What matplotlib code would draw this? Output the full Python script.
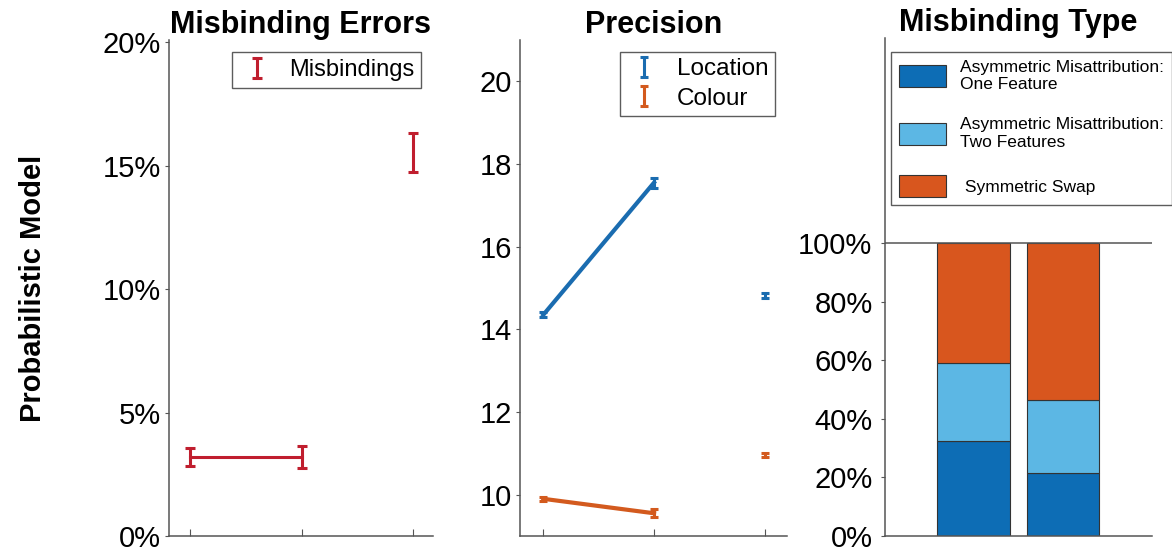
import matplotlib
matplotlib.use("Agg")
import matplotlib.pyplot as plt
from matplotlib.legend_handler import HandlerErrorbar
from matplotlib.container import ErrorbarContainer
import numpy as np

plt.rcParams['font.family'] = ['Liberation Sans', 'DejaVu Sans']

# ---------------- data ----------------
conditions = [1, 2, 3]

# Panel 1: misbinding errors (%)
misb_mean = [3.2, 3.2, 15.55]
misb_err = [0.35, 0.45, 0.8]

# Panel 2: precision
loc_mean = [14.35, 17.55, 14.82]
loc_err = [0.06, 0.12, 0.06]
col_mean = [9.9, 9.55, 10.95]
col_err = [0.05, 0.1, 0.05]

# Panel 3: misbinding type (stacked %)
type_positions = [1, 2]
one_feature = [32.5, 21.5]
two_features = [26.5, 25.0]
symmetric_swap = [41.0, 53.5]
type_labels = ["Asymmetric Misattribution:\nOne Feature",
               "Asymmetric Misattribution:\nTwo Features",
               " Symmetric Swap"]

RED = "#C01E2E"
BLUE = "#1A6CB0"
ORANGE = "#D35A1E"
DARK_BLUE = "#0D6DB5"
LIGHT_BLUE = "#5CB7E4"
BAR_ORANGE = "#D8561E"
SPINE = "#555555"

fig = plt.figure(figsize=(11.72, 5.54), dpi=100)

def style(ax):
    for s in ["top", "right"]:
        ax.spines[s].set_visible(False)
    for s in ["left", "bottom"]:
        ax.spines[s].set_color(SPINE)
        ax.spines[s].set_linewidth(1.1)
    ax.tick_params(axis="x", direction="in", length=5, color=SPINE, labelbottom=False)
    ax.tick_params(axis="y", direction="out", length=3, color=SPINE, labelsize=21, pad=3)

emap = {ErrorbarContainer: HandlerErrorbar(yerr_size=0.42)}

# ---------- Panel 1 ----------
ax1 = fig.add_axes([169/1172, 1-536/554, (433-169)/1172, (536-40)/554])
style(ax1)
ax1.errorbar(conditions[:2], misb_mean[:2], yerr=misb_err[:2], fmt='-', color=RED,
             lw=2.2, elinewidth=2.2, capsize=3.5, capthick=2.2)
ax1.errorbar(conditions[2:], misb_mean[2:], yerr=misb_err[2:], fmt='none', color=RED,
             elinewidth=2.2, capsize=3.5, capthick=2.2, label="Misbindings")
ax1.set_xlim(0.81, 3.18)
ax1.set_ylim(0, 20.1)
ax1.set_xticks(conditions)
ax1.set_yticks([0, 5, 10, 15, 20])
ax1.set_yticklabels(["0%", "5%", "10%", "15%", "20%"])
ax1.set_title("Misbinding Errors", fontsize=22, fontweight="bold", pad=4)
ax1.set_ylabel("Probabilistic Model", fontsize=21, fontweight="bold", labelpad=40)
leg1 = ax1.legend(loc="upper right", fontsize=17, frameon=True, fancybox=False,
                  handlelength=1.5, handletextpad=0.6, borderaxespad=0.5, borderpad=0.3,
                  handler_map=emap)
leg1.get_frame().set_edgecolor("#333333")
leg1.get_frame().set_linewidth(1.0)

# ---------- Panel 2 ----------
ax2 = fig.add_axes([520/1172, 1-536/554, (787-520)/1172, (536-40)/554])
style(ax2)
ax2.errorbar(conditions[:2], loc_mean[:2], yerr=loc_err[:2], fmt='-', color=BLUE,
             lw=3, elinewidth=2.2, capsize=3, capthick=2.2)
ax2.errorbar(conditions[2:], loc_mean[2:], yerr=loc_err[2:], fmt='none', color=BLUE,
             elinewidth=2.2, capsize=3, capthick=2.2, label="Location")
ax2.errorbar(conditions[:2], col_mean[:2], yerr=col_err[:2], fmt='-', color=ORANGE,
             lw=3, elinewidth=2.2, capsize=3, capthick=2.2)
ax2.errorbar(conditions[2:], col_mean[2:], yerr=col_err[2:], fmt='none', color=ORANGE,
             elinewidth=2.2, capsize=3, capthick=2.2, label="Colour")
ax2.set_xlim(0.79, 3.2)
ax2.set_ylim(9, 21)
ax2.set_xticks(conditions)
ax2.set_yticks([10, 12, 14, 16, 18, 20])
ax2.set_title("Precision", fontsize=22, fontweight="bold", pad=4)
leg2 = ax2.legend(loc="upper right", fontsize=17.5, frameon=True, fancybox=False,
                  handlelength=1.5, handletextpad=0.6, borderaxespad=0.5, borderpad=0.25,
                  labelspacing=0.3, handler_map=emap)
leg2.get_frame().set_edgecolor("#333333")
leg2.get_frame().set_linewidth(1.0)

# ---------- Panel 3 ----------
ax3 = fig.add_axes([885/1172, 1-536/554, (1152-885)/1172, (536-38)/554])
style(ax3)
ax3.tick_params(axis="x", length=0)
w = 0.81
ax3.bar(type_positions, one_feature, width=w, color=DARK_BLUE, edgecolor="#333333",
        lw=0.8, label=type_labels[0])
bottom2 = one_feature
ax3.bar(type_positions, two_features, width=w, bottom=bottom2, color=LIGHT_BLUE,
        edgecolor="#333333", lw=0.8, label=type_labels[1])
bottom3 = [a + b for a, b in zip(one_feature, two_features)]
ax3.bar(type_positions, symmetric_swap, width=w, bottom=bottom3, color=BAR_ORANGE,
        edgecolor="#333333", lw=0.8, label=type_labels[2])
ax3.axhline(100, color=SPINE, lw=1.1)
ax3.set_xlim(0.02, 2.99)
ax3.set_ylim(0, 170)
ax3.set_xticks([])
ax3.set_yticks([0, 20, 40, 60, 80, 100])
ax3.set_yticklabels(["0%", "20%", "40%", "60%", "80%", "100%"])
ax3.tick_params(axis="y", pad=6)
ax3.set_title("Misbinding Type", fontsize=22, fontweight="bold", pad=4)
leg3 = ax3.legend(loc="upper left", bbox_to_anchor=(891/1172, 1-52/554),
                  bbox_transform=fig.transFigure, fontsize=12.5, frameon=True,
                  fancybox=False, handlelength=2.7, handleheight=1.6,
                  handletextpad=0.85, labelspacing=1.45, borderpad=0.45, borderaxespad=0)
leg3.get_frame().set_edgecolor("#333333")
leg3.get_frame().set_linewidth(1.0)

fig.savefig("out.png", dpi=100)
